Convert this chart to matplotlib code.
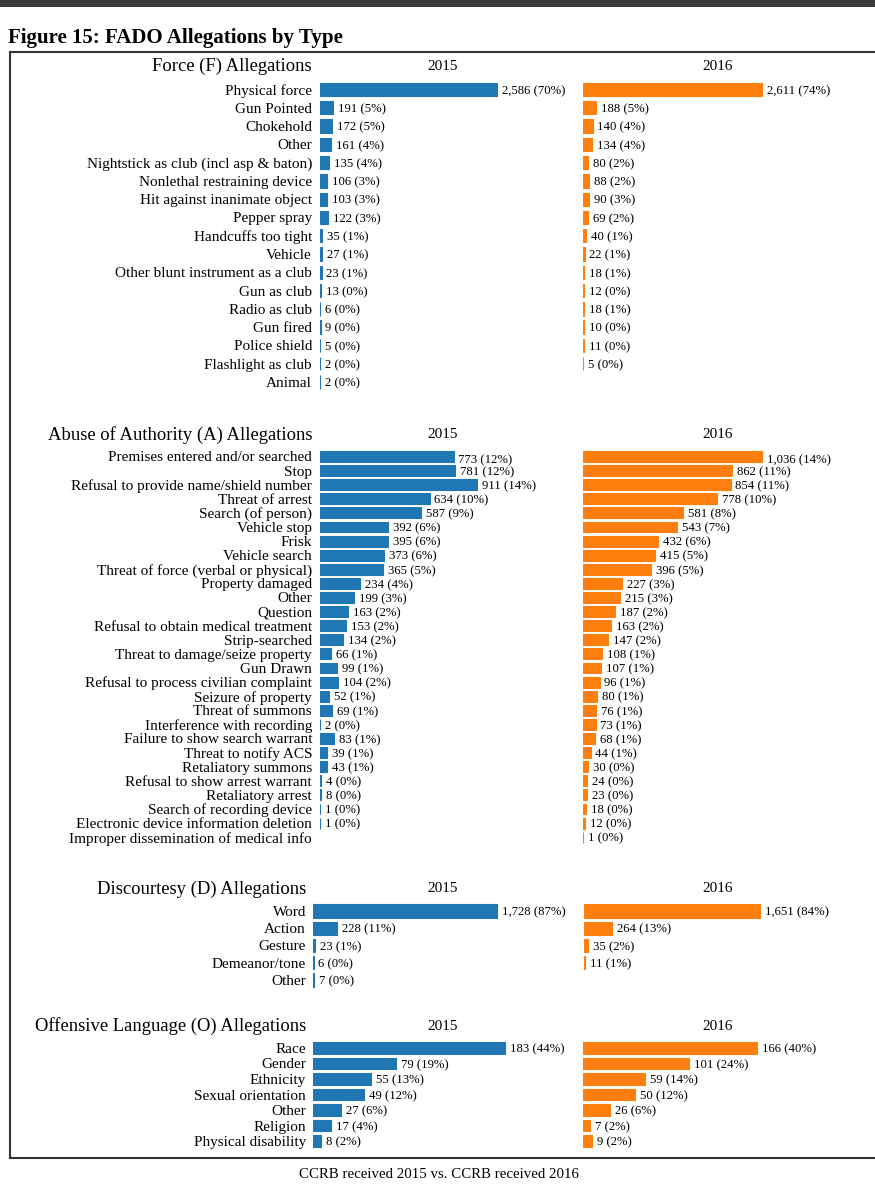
import numpy as np
import matplotlib.pyplot as plt
from matplotlib.lines import Line2D
from matplotlib.patches import Rectangle

plt.rcParams['font.family'] = ['Liberation Serif', 'DejaVu Serif']

BLUE = '#1f77b4'
ORANGE = '#ff7f0e'
W, H = 875, 1200

# ---- data (None = no bar for that year) ----
force_labels = ['Physical force', 'Gun Pointed', 'Chokehold', 'Other',
                'Nightstick as club (incl asp & baton)', 'Nonlethal restraining device',
                'Hit against inanimate object', 'Pepper spray', 'Handcuffs too tight',
                'Vehicle', 'Other blunt instrument as a club', 'Gun as club',
                'Radio as club', 'Gun fired', 'Police shield', 'Flashlight as club', 'Animal']
force_2015 = [2586, 191, 172, 161, 135, 106, 103, 122, 35, 27, 23, 13, 6, 9, 5, 2, 2]
force_2015_pct = [70, 5, 5, 4, 4, 3, 3, 3, 1, 1, 1, 0, 0, 0, 0, 0, 0]
force_2016 = [2611, 188, 140, 134, 80, 88, 90, 69, 40, 22, 18, 12, 18, 10, 11, 5, None]
force_2016_pct = [74, 5, 4, 4, 2, 2, 3, 2, 1, 1, 1, 0, 1, 0, 0, 0, None]

abuse_labels = ['Premises entered and/or searched', 'Stop', 'Refusal to provide name/shield number',
                'Threat of arrest', 'Search (of person)', 'Vehicle stop', 'Frisk', 'Vehicle search',
                'Threat of force (verbal or physical)', 'Property damaged', 'Other', 'Question',
                'Refusal to obtain medical treatment', 'Strip-searched', 'Threat to damage/seize property',
                'Gun Drawn', 'Refusal to process civilian complaint', 'Seizure of property',
                'Threat of summons', 'Interference with recording', 'Failure to show search warrant',
                'Threat to notify ACS', 'Retaliatory summons', 'Refusal to show arrest warrant',
                'Retaliatory arrest', 'Search of recording device',
                'Electronic device information deletion', 'Improper dissemination of medical info']
abuse_2015 = [773, 781, 911, 634, 587, 392, 395, 373, 365, 234, 199, 163, 153, 134, 66, 99,
              104, 52, 69, 2, 83, 39, 43, 4, 8, 1, 1, None]
abuse_2015_pct = [12, 12, 14, 10, 9, 6, 6, 6, 5, 4, 3, 2, 2, 2, 1, 1, 2, 1, 1, 0, 1, 1, 1,
                  0, 0, 0, 0, None]
abuse_2016 = [1036, 862, 854, 778, 581, 543, 432, 415, 396, 227, 215, 187, 163, 147, 108, 107,
              96, 80, 76, 73, 68, 44, 30, 24, 23, 18, 12, 1]
abuse_2016_pct = [14, 11, 11, 10, 8, 7, 6, 5, 5, 3, 3, 2, 2, 2, 1, 1, 1, 1, 1, 1, 1, 1, 0,
                  0, 0, 0, 0, 0]

disc_labels = ['Word', 'Action', 'Gesture', 'Demeanor/tone', 'Other']
disc_2015 = [1728, 228, 23, 6, 7]
disc_2015_pct = [87, 11, 1, 0, 0]
disc_2016 = [1651, 264, 35, 11, None]
disc_2016_pct = [84, 13, 2, 1, None]

offl_labels = ['Race', 'Gender', 'Ethnicity', 'Sexual orientation', 'Other', 'Religion',
               'Physical disability']
offl_2015 = [183, 79, 55, 49, 27, 17, 8]
offl_2015_pct = [44, 19, 13, 12, 6, 4, 2]
offl_2016 = [166, 101, 59, 50, 26, 7, 9]
offl_2016_pct = [40, 24, 14, 12, 6, 2, 2]

years = ['2015', '2016']

fig = plt.figure(figsize=(8.75, 12), dpi=100)


def fx(x):
    return x / W


def fy(y):
    return 1 - y / H


def draw_section(title, labels, v15, p15, v16, p16, y_head, y_first, step, bar_h,
                 x15, x16, span, lab_right, first_drop=0):
    n = len(labels)
    top = y_first - step / 2
    bottom = y_first + step * (n - 1) + step / 2
    vmax = max(v for v in v15 + v16 if v is not None)
    ax_w = 240
    for k, (vals, pcts, x0, col) in enumerate([(v15, p15, x15, BLUE), (v16, p16, x16, ORANGE)]):
        ax = fig.add_axes([fx(x0), fy(bottom), ax_w / W, (bottom - top) / H])
        ax.set_xlim(0, vmax * ax_w / span)
        ax.set_ylim(n - 0.5, -0.5)
        for s in ax.spines.values():
            s.set_visible(False)
        ax.set_xticks([])
        ax.patch.set_alpha(0)
        for i, (v, p) in enumerate(zip(vals, pcts)):
            if v is None:
                continue
            ax.barh(i, v, height=bar_h, color=col, edgecolor=col, linewidth=0.8)
            dy = -first_drop if i == 0 else 0
            ax.annotate(f'{v:,} ({p}%)', (v, i), xytext=(3.5, dy), textcoords='offset points',
                        ha='left', va='center_baseline', fontsize=9.2)
        if k == 0:
            ax.set_yticks(range(n))
            ax.set_yticklabels(labels, fontsize=11)
            ax.tick_params(axis='y', length=0, pad=(x0 - lab_right) * 0.72)
        else:
            ax.set_yticks([])
    fig.text(fx(lab_right), fy(y_head), title, ha='right', va='center', fontsize=13.4)
    fig.text(fx(443), fy(y_head), years[0], ha='center', va='center', fontsize=11)
    fig.text(fx(718), fy(y_head), years[1], ha='center', va='center', fontsize=11)


draw_section('Force (F) Allegations', force_labels, force_2015, force_2015_pct,
             force_2016, force_2016_pct, 66, 89.5, 18.28, 0.73, 320, 583, 179, 312)
draw_section('Abuse of Authority (A) Allegations', abuse_labels, abuse_2015, abuse_2015_pct,
             abuse_2016, abuse_2016_pct, 435, 456.5, 14.1, 0.78, 320, 583, 179, 312, first_drop=2)
draw_section('Discourtesy (D) Allegations', disc_labels, disc_2015, disc_2015_pct,
             disc_2016, disc_2016_pct, 889, 911, 17.25, 0.76, 313, 584, 184, 306)
draw_section('Offensive Language (O) Allegations', offl_labels, offl_2015, offl_2015_pct,
             offl_2016, offl_2016_pct, 1026, 1048, 15.5, 0.72, 313, 583, 192, 306)

# title, frame, footer
fig.add_artist(Rectangle((0, fy(7)), 1, 7 / H, transform=fig.transFigure,
                         color='#3a3a3a', lw=0))
fig.text(fx(8), fy(38), 'Figure 15: FADO Allegations by Type', ha='left', va='center',
         fontsize=15, fontweight='bold')
frame = '#333333'
fig.add_artist(Line2D([fx(10), fx(10)], [fy(52), fy(1158)], color=frame, lw=1.5))
fig.add_artist(Line2D([fx(10), 1], [fy(52), fy(52)], color=frame, lw=1.5))
fig.add_artist(Line2D([fx(10), 1], [fy(1158), fy(1158)], color=frame, lw=1.5))
fig.text(fx(439), fy(1174), 'CCRB received 2015 vs. CCRB received 2016', ha='center',
         va='center', fontsize=10.7)

fig.savefig('out.png', dpi=100)
